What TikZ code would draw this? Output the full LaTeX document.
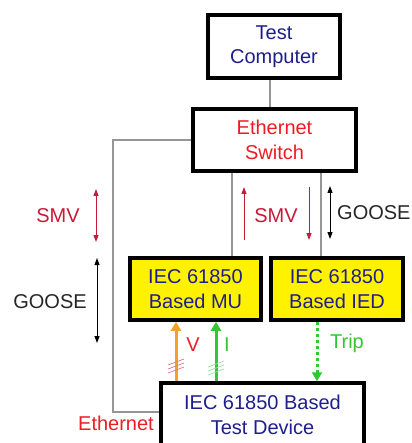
\documentclass[tikz,border=0pt]{standalone}
\usepackage{fontspec}
\setmainfont{Liberation Sans}
\usetikzlibrary{arrows.meta}
\definecolor{navy}{RGB}{30,30,140}
\definecolor{ered}{RGB}{238,28,36}
\definecolor{crim}{RGB}{200,25,55}
\definecolor{sigorange}{RGB}{245,160,40}
\definecolor{siggreen}{RGB}{50,200,50}
\definecolor{wire}{RGB}{150,150,150}
\begin{document}
\begin{tikzpicture}[x=1pt,y=-1pt,
  txt/.style={font=\fontsize{20}{24.5}\selectfont},
  box/.style={txt, draw=black, line width=3.5pt, inner sep=0pt, align=center},
  lbl/.style={txt, inner sep=0pt},
  conn/.style={draw=wire, line width=1.4pt},
  sig/.style={line width=1pt, -{Triangle[length=7pt,width=5pt]}},
  dsig/.style={line width=1pt, {Triangle[length=7pt,width=5pt]}-{Triangle[length=7pt,width=5pt]}},
  fat/.style={line width=3pt, -{Triangle[length=9pt,width=10pt]}},
  hash/.style={line width=0.7pt}]
\useasboundingbox (0,0) rectangle (411,443);
\clip (0,0) rectangle (411,443);

% boxes
\node[box, text=navy, minimum width=132pt, minimum height=63pt] (tc) at (274,46.5) {Test\\Computer};
\node[box, text=ered, minimum width=163pt, minimum height=62pt] (sw) at (274.5,140) {Ethernet\\Switch};
\node[box, fill=yellow, text=navy, minimum width=131pt, minimum height=62pt] (mu) at (195.5,289) {IEC 61850\\Based MU};
\node[box, fill=yellow, text=navy, minimum width=132pt, minimum height=62pt] (ied) at (337,289) {IEC 61850\\Based IED};
\node[box, text=navy, minimum width=203pt, minimum height=64pt] (td) at (262.5,415) {IEC 61850 Based\\Test Device};

% wires
\coordinate (xc) at (270,0);
\coordinate (xa) at (232,0);
\coordinate (xb) at (321,0);
\coordinate (ecorner) at (113,412);
\draw[conn] (tc.south -| xc) -- (sw.north -| xc);
\draw[conn] (sw.south -| xa) -- (mu.north -| xa);
\draw[conn] (sw.south -| xb) -- (ied.north -| xb);
\draw[conn] (sw.west) -| (ecorner) -- (ecorner -| td.west);

% SMV / GOOSE indicators
\coordinate (s1a) at (96,189); \coordinate (s1b) at (96,242);
\draw[dsig, crim] (s1a) -- (s1b);
\node[lbl, text=crim] (smv1) at (58,216) {SMV};

\coordinate (g1a) at (97,258); \coordinate (g1b) at (97,343);
\draw[dsig, black] (g1a) -- (g1b);
\node[lbl, text=black!85] (goose1) at (50,302) {GOOSE};

\coordinate (s2a) at (244,240); \coordinate (s2b) at (244,187);
\draw[sig, crim] (s2a) -- (s2b);
\coordinate (s3a) at (309,187); \coordinate (s3b) at (309,240);
\draw[sig, crim] (s3a) -- (s3b);
\node[lbl, text=crim] (smv2) at (276,216) {SMV};

\coordinate (g2a) at (330,186); \coordinate (g2b) at (330,239);
\draw[dsig, black] (g2a) -- (g2b);
\node[lbl, text=black!85, anchor=west] (goose2) at (337,213) {GOOSE};

% V, I, Trip
\coordinate (xv) at (176,0);
\coordinate (xi) at (216,0);
\coordinate (xt) at (317,0);
\draw[fat, sigorange] (td.north -| xv) -- (mu.south -| xv);
\draw[fat, siggreen] (td.north -| xi) -- (mu.south -| xi);
\draw[fat, siggreen, dash pattern=on 3pt off 3pt] (ied.south -| xt) -- (td.north -| xt);
\foreach \k in {0,1,2}
  \draw[hash, crim!60] (168,{365+4*\k}) -- (184,{359+4*\k});
\foreach \k in {0,1,2}
  \draw[hash, siggreen!50] (208,{367+4*\k}) -- (224,{361+4*\k});
\node[lbl, text=ered] (vl) at (193,345) {V};
\node[lbl, text=siggreen] (il) at (227,345) {I};
\node[lbl, text=siggreen] (trip) at (347,343) {Trip};
\node[lbl, text=ered, anchor=east] (eth) at (154,423) {Ethernet};
\end{tikzpicture}
\end{document}
